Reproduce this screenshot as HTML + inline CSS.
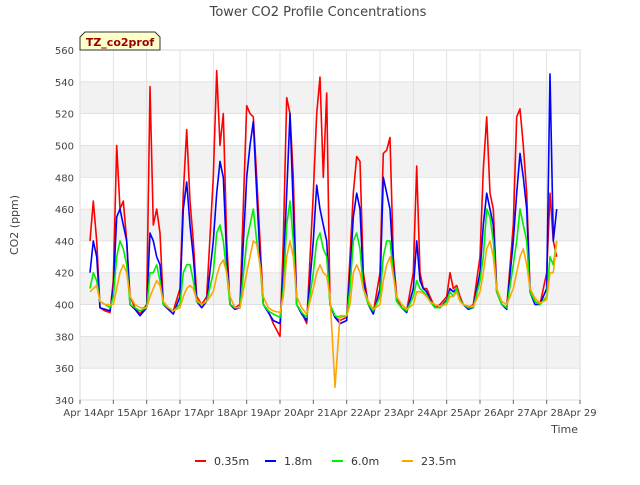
<!DOCTYPE html>
<html><head><meta charset="utf-8"><style>
body{margin:0;background:#fff;font-family:"Liberation Sans","DejaVu Sans",sans-serif}
svg text{font-family:"DejaVu Sans","Liberation Sans",sans-serif}
</style></head><body>
<svg id="chart" width="640" height="480" xmlns="http://www.w3.org/2000/svg">
<rect width="640" height="480" fill="#fff"/>
<g id="bands"></g>
<g id="grid"></g>
<g id="series"></g>
<g id="axes"></g>
<text x="318" y="16" text-anchor="middle" font-size="13" fill="#444">Tower CO2 Profile Concentrations</text>
<text transform="translate(18,225) rotate(-90)" text-anchor="middle" font-size="11" fill="#444">CO2 (ppm)</text>
<text x="578" y="433" text-anchor="end" font-size="11" fill="#444">Time</text>
<g>
<path d="M80,50 L80,37 L85,32 L155,32 L160,37 L160,50 Z" fill="#ffffcc" stroke="#333" stroke-width="1"/>
<text x="120" y="46" text-anchor="middle" font-size="11" font-weight="bold" fill="#990000">TZ_co2prof</text>
</g>
<g id="legend"></g>
</svg>
<script>
const times=[14.3,14.4,14.5,14.6,14.75,14.9,
15,15.1,15.2,15.3,15.4,15.5,15.65,15.8,
16,16.1,16.2,16.3,16.4,16.5,16.65,16.8,
17,17.1,17.2,17.3,17.4,17.5,17.65,17.8,
18,18.1,18.2,18.3,18.4,18.5,18.65,18.8,
19,19.1,19.2,19.3,19.4,19.5,19.65,19.8,
20,20.1,20.2,20.3,20.4,20.5,20.65,20.8,
21,21.1,21.2,21.3,21.4,21.5,21.65,21.8,
22,22.1,22.2,22.3,22.4,22.5,22.65,22.8,
23,23.1,23.2,23.3,23.4,23.5,23.65,23.8,
24,24.1,24.2,24.3,24.4,24.5,24.65,24.8,
25,25.1,25.2,25.3,25.4,25.5,25.65,25.8,
26,26.1,26.2,26.3,26.4,26.5,26.65,26.8,
27,27.1,27.2,27.3,27.4,27.5,27.65,27.8,
28,28.1,28.2,28.3];
const red=[440,465,440,398,396,395,
415,500,460,465,440,405,398,394,
400,537,450,460,445,400,398,396,
410,470,510,465,440,405,400,405,
480,547,500,520,440,400,398,400,
525,520,518,480,440,400,396,388,
380,440,530,520,480,400,395,388,
470,520,543,480,533,400,392,390,
392,430,470,493,490,420,400,395,
420,495,497,505,430,405,398,396,
420,487,420,410,410,405,398,400,
405,420,410,412,405,400,398,400,
430,485,518,470,460,410,400,398,
450,518,523,500,470,410,402,400,
420,470,440,430];
const blue=[420,440,430,398,397,396,
410,455,460,450,440,400,397,393,
398,445,440,430,425,400,397,394,
405,460,477,450,430,402,398,402,
440,470,490,480,430,400,397,398,
480,500,515,470,430,400,395,390,
388,420,470,520,460,400,394,390,
440,475,460,450,440,400,392,388,
390,420,455,470,460,415,400,394,
410,480,470,460,425,402,398,395,
410,440,415,410,408,403,398,398,
403,410,408,410,403,400,397,398,
420,450,470,460,450,408,400,397,
440,470,495,480,460,408,400,400,
410,545,440,460];
const green=[410,420,415,402,400,398,
405,430,440,435,425,400,398,396,
398,420,420,425,415,400,398,396,
400,420,425,425,415,402,400,402,
420,445,450,440,420,400,398,398,
440,450,460,440,425,400,396,394,
392,410,450,465,440,400,395,392,
420,440,445,435,430,400,393,392,
393,410,440,445,435,410,400,396,
405,430,440,440,420,402,398,396,
405,415,410,408,406,402,398,398,
402,408,405,410,403,400,398,398,
415,430,460,455,440,408,400,398,
425,440,460,450,440,408,402,400,
405,430,425,440];
const orange=[408,410,412,402,400,400,
400,410,420,425,420,405,400,398,
398,405,410,415,412,402,398,396,
398,405,410,412,410,403,400,402,
408,418,425,428,420,405,398,398,
420,430,440,438,425,405,398,396,
395,405,430,440,430,405,398,394,
410,420,425,420,418,405,348,393,
393,400,420,425,420,410,402,397,
400,415,425,430,418,405,400,397,
400,408,408,407,405,402,400,399,
400,405,405,408,402,400,399,399,
408,420,435,440,430,410,402,400,
410,420,430,435,425,410,404,401,
403,420,420,440];
const yTicks=[340,360,380,400,420,440,460,480,500,520,540,560];
const xTicks=[14,15,16,17,18,19,20,21,22,23,24,25,26,27,28,29];
const seriesNames=["0.35m","1.8m","6.0m","23.5m"];
const seriesColors=["#ff0000","#0000ff","#00ee00","#ffa500"];
const seriesData=[red,blue,green,orange];

const L=80,R=580,T=50,B=400,NS="http://www.w3.org/2000/svg";
const xs=t=>L+(t-14)/(29-14)*(R-L);
const ys=v=>B-(v-340)/(560-340)*(B-T);
function mk(tag,attrs,parent){const e=document.createElementNS(NS,tag);for(const k in attrs)e.setAttribute(k,attrs[k]);parent.appendChild(e);return e;}
const bands=document.getElementById('bands'),grid=document.getElementById('grid'),axes=document.getElementById('axes'),ser=document.getElementById('series'),leg=document.getElementById('legend');
mk('rect',{x:L,y:T,width:R-L,height:B-T,fill:'#fff',stroke:'#ccc'},bands);
for(let i=0;i<yTicks.length-1;i++){ if(i%2===1){
 const r=mk('rect',{x:L,y:ys(yTicks[i+1]),width:R-L,height:ys(yTicks[i])-ys(yTicks[i+1]),fill:'#f2f2f2'},bands);
 
 }}
yTicks.forEach(v=>{
 const l=mk('line',{x1:L,x2:R,y1:ys(v),y2:ys(v),stroke:'#ddd','stroke-width':0.8},grid);
 
 
 const t=mk('text',{x:L-6,y:ys(v)+4,'text-anchor':'end','font-size':10,fill:'#444'},axes);
 t.textContent=v;
 
 
});
xTicks.forEach(d=>{
 const l=mk('line',{x1:xs(d),x2:xs(d),y1:T,y2:B,stroke:'#ddd','stroke-width':0.8},grid);
 
 
 mk('line',{x1:xs(d),x2:xs(d),y1:B,y2:B+4,stroke:'#666'},axes);
 const t=mk('text',{x:xs(d),y:B+16,'text-anchor':'middle','font-size':10,fill:'#444'},axes);
 t.textContent='Apr '+d;
 
 
});
seriesData.forEach((vals,i)=>{
 const d=vals.map((v,j)=>(j?'L':'M')+xs(times[j]).toFixed(1)+','+ys(v).toFixed(1)).join(' ');
 const p=mk('path',{d:d,fill:'none',stroke:seriesColors[i],'stroke-width':1.6,'stroke-linejoin':'round'},ser);
 
 
});
const legX=[195,265,332,402];
seriesNames.forEach((n,i)=>{
 const g=mk('g',{},leg);
 
 
 mk('line',{x1:legX[i],x2:legX[i]+11,y1:461,y2:461,stroke:seriesColors[i],'stroke-width':2},g);
 const t=mk('text',{x:legX[i]+19,y:465,'font-size':11,fill:'#333'},g);
 t.textContent=n;
});
</script>
</body></html>
